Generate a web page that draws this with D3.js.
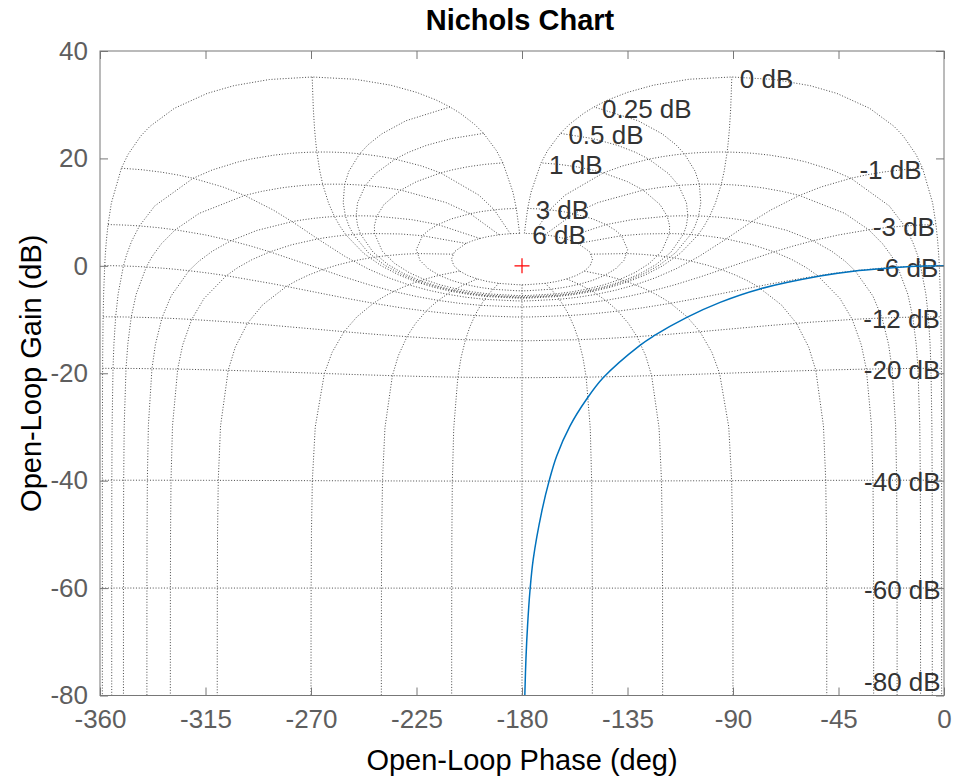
<!DOCTYPE html>
<html>
<head>
<meta charset="utf-8">
<script src="https://cdn.jsdelivr.net/npm/d3@7"></script>
<style>
  body { margin: 0; background: #fff; }
  text { font-family: "Liberation Sans", Arial, Helvetica, sans-serif; }
</style>
</head>
<body>
<svg id="chart" width="954" height="782"></svg>
<script>
// open-loop response
var curvePhase = [0, -12, -24.4, -38.7, -52.9, -78.5, -95.5, -109.7, -124.0, -129.7, -145.3, -152.4, -159.5, -165.2, -168.4, -171.6, -175.2, -176.6, -177.6, -178.3, -178.8, -179.0];
var curveGain  = [0, -0.1, -0.45, -1.0, -1.9, -4.3, -6.8, -9.6, -13.1, -14.8, -20.8, -24.8, -29.8, -35.4, -40.0, -45.8, -54.6, -60.5, -66.8, -73.0, -80, -84];

// axis ticks
var phaseTicks = [-360, -315, -270, -225, -180, -135, -90, -45, 0];
var gainTicks = [40, 20, 0, -20, -40, -60, -80];

// Nichols grid: closed-loop gains (dB) and phases (deg)
var isoGainDb = [6, 3, 1, 0.5, 0.25, 0, -1, -3, -6, -12, -20, -40, -60, -80, -100];
var isoGainPhasePts = [1, 2, 3, 4, 5, 7.5, 10, 15, 20, 25, 30, 45, 60, 75, 90, 105, 120, 135, 150, 175, 180];
var isoPhaseDeg = [1, 5, 10, 20, 30, 50, 90, 120, 150, 180];
var isoPhaseGainPts = [6, 3, 2, 1, .75, .5, .4, .3, .25, .2, .15, .1, .05, 0, -.05, -.1, -.15, -.25, -.4, -.5, -.75, -1, -2, -3, -4, -5, -6, -9, -12, -16, -20, -30, -40, -50, -60, -70, -80, -90, -100, -120];

var margin = {top: 51, right: 10, bottom: 86.5, left: 100},
    width = 954 - margin.left - margin.right,
    height = 782 - margin.top - margin.bottom;

var svg = d3.select("#chart");
var g = svg.append("g")
    .attr("transform", "translate(" + margin.left + "," + margin.top + ")");

var x = d3.scaleLinear().domain([-360, 0]).range([0, width]);
var y = d3.scaleLinear().domain([-80, 40]).range([height, 0]);

g.append("clipPath").attr("id", "plotclip")
  .append("rect").attr("width", width).attr("height", height);

// open loop point from closed loop T = m*e^(j*p):  G = T/(1-T)
function openLoop(gdb, pdeg) {
  var m = Math.pow(10, gdb / 20), p = pdeg * Math.PI / 180;
  var a = m * Math.cos(p), b = m * Math.sin(p);
  var d = (1 - a) * (1 - a) + b * b;
  var ph = Math.atan2(b, a - a * a - b * b) * 180 / Math.PI;
  if (ph > 0) ph -= 360;
  return [ph, 20 * Math.log10(m / Math.sqrt(d))];
}

var gridLine = d3.line()
    .x(function(d) { return x(d[0]); })
    .y(function(d) { return y(d[1]); });

var gridG = g.append("g").attr("clip-path", "url(#plotclip)");

function drawGrid(pts) {
  gridG.append("path")
    .attr("d", gridLine(pts))
    .attr("fill", "none")
    .attr("stroke", "#4a4a4a")
    .attr("stroke-width", 1)
    .attr("stroke-dasharray", "1,1.8");
}

// isogain contours
var fullPts = isoGainPhasePts.concat(isoGainPhasePts.slice(0, -1).reverse().map(function(p) { return 360 - p; }));
isoGainDb.forEach(function(gdb) {
  drawGrid(fullPts.map(function(p) { return openLoop(gdb, p); }));
});

// isophase contours (and their mirror about -180)
isoPhaseDeg.forEach(function(pdeg) {
  var pts = isoPhaseGainPts.map(function(gdb) { return openLoop(gdb, pdeg); });
  drawGrid(pts);
  if (pdeg < 180) drawGrid(pts.map(function(d) { return [-360 - d[0], d[1]]; }));
});

// contour labels
isoGainDb.filter(function(gdb) { return gdb >= -80; }).forEach(function(gdb) {
  var q = openLoop(gdb, 359);
  var ty = Math.min(y(q[1]) + 2, height - 14);
  g.append("text")
    .attr("x", gdb >= 0 ? x(q[0]) + 8 : x(q[0]) - 1)
    .attr("y", ty)
    .attr("dominant-baseline", "central")
    .attr("text-anchor", gdb >= 0 ? "start" : "end")
    .attr("fill", "#333")
    .attr("font-size", 26)
    .text(gdb + " dB");
});

// response curve
var curve = d3.line()
    .x(function(d) { return x(d[0]); })
    .y(function(d) { return y(d[1]); })
    .curve(d3.curveCatmullRom.alpha(0.5));

g.append("path")
  .datum(d3.zip(curvePhase, curveGain))
  .attr("clip-path", "url(#plotclip)")
  .attr("d", curve)
  .attr("fill", "none")
  .attr("stroke", "#0072BD")
  .attr("stroke-width", 1.5);

// critical point
g.append("path")
  .attr("d", "M" + (x(-180) - 7.5) + "," + y(0) + "h15M" + x(-180) + "," + (y(0) - 7.5) + "v15")
  .attr("stroke", "#ff0000")
  .attr("stroke-width", 1.2);

// axes (ticks inward, box on)
var plain = function(d) { return String(d); };
function styleAxis(sel) {
  sel.select(".domain").remove();
  sel.selectAll("line").attr("stroke", "#777");
  sel.selectAll("text").attr("fill", "#5e5e5e").attr("font-size", 26)
    .attr("font-family", "Liberation Sans, Arial, sans-serif");
}
g.append("g").attr("transform", "translate(0," + height + ")")
  .call(d3.axisBottom(x).tickValues(phaseTicks).tickFormat(plain).tickSizeInner(-8).tickSizeOuter(0).tickPadding(14))
  .call(styleAxis);
g.append("g")
  .call(d3.axisTop(x).tickValues(phaseTicks).tickSizeInner(-8).tickSizeOuter(0).tickFormat(""))
  .call(styleAxis);
g.append("g")
  .call(d3.axisLeft(y).tickValues(gainTicks).tickFormat(plain).tickSizeInner(-8).tickSizeOuter(0).tickPadding(12))
  .call(styleAxis);
g.append("g").attr("transform", "translate(" + width + ",0)")
  .call(d3.axisRight(y).tickValues(gainTicks).tickSizeInner(-8).tickSizeOuter(0).tickFormat(""))
  .call(styleAxis);

g.append("rect")
  .attr("width", width).attr("height", height)
  .attr("fill", "none").attr("stroke", "#777").attr("stroke-width", 1);

// titles
svg.append("text")
  .attr("x", margin.left + width / 2 - 2).attr("y", 30)
  .attr("text-anchor", "middle").attr("font-weight", "bold")
  .attr("font-size", 29).attr("fill", "#000")
  .text("Nichols Chart");

svg.append("text")
  .attr("x", margin.left + width / 2).attr("y", 770)
  .attr("text-anchor", "middle").attr("font-size", 29).attr("fill", "#000")
  .text("Open-Loop Phase (deg)");

svg.append("text")
  .attr("transform", "translate(41," + (margin.top + height / 2) + ") rotate(-90)")
  .attr("text-anchor", "middle").attr("font-size", 29).attr("fill", "#000")
  .text("Open-Loop Gain (dB)");
</script>
</body>
</html>
